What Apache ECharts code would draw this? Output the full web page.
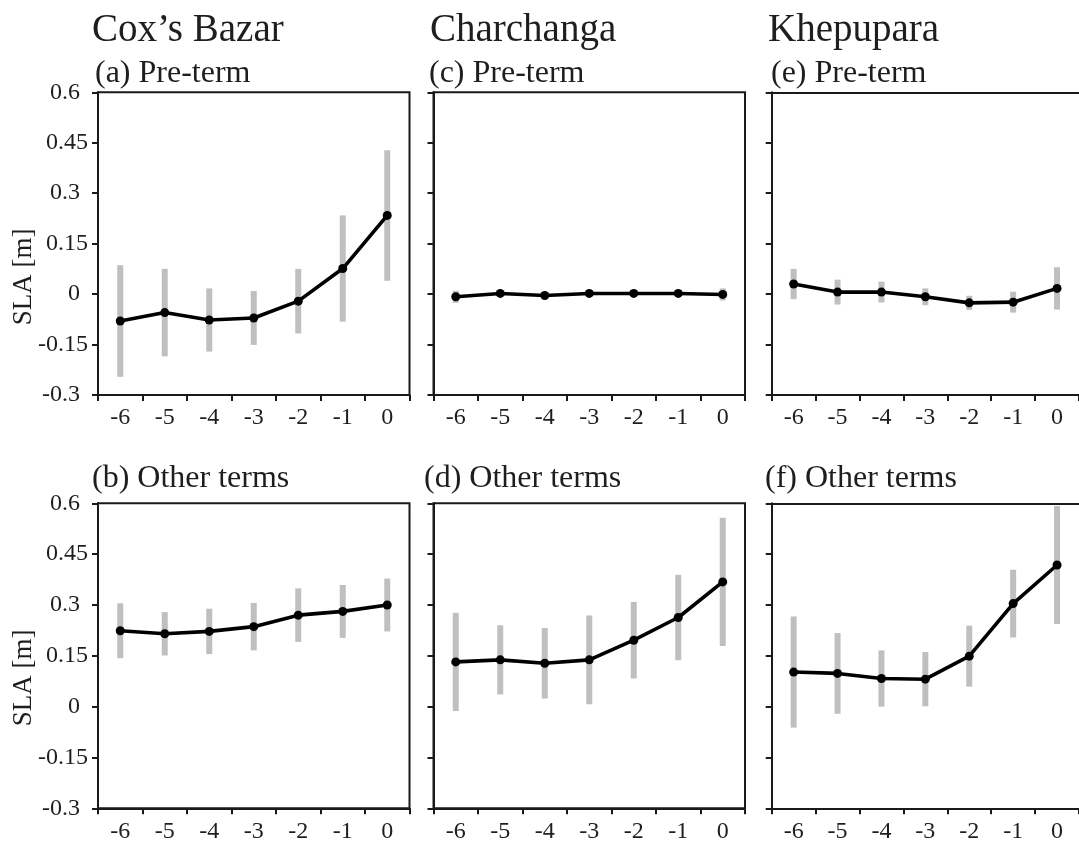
<!DOCTYPE html>
<html>
<head>
<meta charset="utf-8">
<script src="https://cdn.jsdelivr.net/npm/echarts@6/dist/echarts.min.js"></script>
<style>
  html, body { margin: 0; padding: 0; background: #ffffff; overflow: hidden; }
  #chart { width: 1079px; height: 848px; }
</style>
</head>
<body>
<div id="chart"></div>
<script>
// Days before the event (x categories)
const categories = ['-6', '-5', '-4', '-3', '-2', '-1', '0'];
const yTicks = [-0.3, -0.15, 0, 0.15, 0.3, 0.45, 0.6];

// Mean sea level anomaly [m] and standard deviation for each station / period
const coxPreMean   = [-0.080, -0.055, -0.077, -0.071, -0.021, 0.076, 0.234];
const coxPreSd     = [0.166, 0.130, 0.094, 0.080, 0.096, 0.158, 0.194];
const coxOtherMean = [0.224, 0.215, 0.222, 0.236, 0.270, 0.281, 0.300];
const coxOtherSd   = [0.081, 0.064, 0.067, 0.070, 0.079, 0.078, 0.078];

const charPreMean   = [-0.008, 0.002, -0.004, 0.002, 0.002, 0.002, -0.001];
const charPreSd     = [0.018, 0.008, 0.008, 0.008, 0.008, 0.008, 0.018];
const charOtherMean = [0.132, 0.138, 0.128, 0.138, 0.196, 0.263, 0.368];
const charOtherSd   = [0.145, 0.102, 0.104, 0.131, 0.113, 0.126, 0.189];

const khePreMean   = [0.030, 0.006, 0.006, -0.008, -0.026, -0.024, 0.017];
const khePreSd     = [0.045, 0.037, 0.031, 0.025, 0.021, 0.031, 0.063];
const kheOtherMean = [0.102, 0.098, 0.083, 0.081, 0.149, 0.304, 0.418];
const kheOtherSd   = [0.164, 0.119, 0.083, 0.080, 0.090, 0.100, 0.174];

const stations = ["Cox\u2019s Bazar", 'Charchanga', 'Khepupara'];
const panelTitles = [
  ['(a) Pre-term', '(b) Other terms'],
  ['(c) Pre-term', '(d) Other terms'],
  ['(e) Pre-term', '(f) Other terms']
];
const panelData = [
  [[coxPreMean, coxPreSd], [coxOtherMean, coxOtherSd]],
  [[charPreMean, charPreSd], [charOtherMean, charOtherSd]],
  [[khePreMean, khePreSd], [kheOtherMean, kheOtherSd]]
];

const FONT = "'Liberation Serif', 'Times New Roman', serif";
const INK = '#1e1e1e';
const AXIS = '#1a1a1a';

// Layout of the six plot boxes (the right column runs past the canvas edge,
// so it only gets a top frame line and no right-hand border)
const colLeft = [98, 433.5, 771.7];
const colRight = [669.5, 334, -3.7];
const rowTop = [92.3, 503.3];
const rowHeight = [302.7, 305];
const stationX = [92, 430, 768];
const panelLabelX = [[95, 92], [429, 424], [771, 765]];
const panelLabelY = [74, 479];
const slaY = [277, 678];

const grids = [], xAxes = [], yAxes = [], series = [], graphics = [];

function fmtTick(v) {
  const r = Math.round(v * 100) / 100;
  const s = String(r);
  const dec = s.indexOf('.') >= 0 ? s.split('.')[1].length : 0;
  return dec === 2 ? '{w|' + s + '}' : '{n|' + s + '}';
}

for (let c = 0; c < 3; c++) {
  for (let r = 0; r < 2; r++) {
    const g = grids.length;
    const boxed = c < 2;
    grids.push({
      left: colLeft[c], right: colRight[c], top: rowTop[r], height: rowHeight[r],
      show: boxed, borderColor: AXIS, borderWidth: 2, backgroundColor: 'transparent'
    });
    const xi = xAxes.length;
    xAxes.push({
      type: 'category', gridIndex: g, data: categories, boundaryGap: true,
      axisLine: { onZero: false, lineStyle: { color: AXIS, width: 2 } },
      axisTick: { show: true, length: 6, lineStyle: { color: AXIS, width: 2 } },
      axisLabel: { color: INK, fontFamily: FONT, fontSize: 24, margin: 11 },
      splitLine: { show: false }
    });
    if (!boxed) {
      // top frame line only
      xAxes.push({
        type: 'category', gridIndex: g, data: categories, position: 'top',
        axisLine: { onZero: false, lineStyle: { color: AXIS, width: 2 } },
        axisTick: { show: false }, axisLabel: { show: false }, splitLine: { show: false }
      });
    }
    const yi = yAxes.length;
    yAxes.push({
      type: 'value', gridIndex: g, min: -0.3, max: 0.6, interval: 0.15,
      axisLine: { show: true, onZero: false, lineStyle: { color: AXIS, width: 2 } },
      axisTick: { show: true, length: 6, lineStyle: { color: AXIS, width: 2 } },
      axisLabel: {
        show: c === 0, fontFamily: FONT, fontSize: 24, color: INK, margin: 10,
        formatter: fmtTick,
        rich: {
          w: { fontFamily: FONT, fontSize: 24, color: INK },
          n: { fontFamily: FONT, fontSize: 24, color: INK, padding: [0, 8, 0, 0] }
        }
      },
      splitLine: { show: false }
    });

    const mean = panelData[c][r][0];
    const sd = panelData[c][r][1];
    // error bars: mean ± one standard deviation
    series.push({
      type: 'custom', xAxisIndex: xi, yAxisIndex: yi, z: 1, silent: true,
      data: mean.map((m, i) => [i, m - sd[i], m + sd[i]]),
      renderItem: function (params, api) {
        const lo = api.coord([api.value(0), api.value(1)]);
        const hi = api.coord([api.value(0), api.value(2)]);
        return {
          type: 'line',
          shape: { x1: lo[0], y1: lo[1], x2: hi[0], y2: hi[1] },
          style: { stroke: '#bfbfbf', lineWidth: 6 }
        };
      }
    });
    series.push({
      type: 'line', xAxisIndex: xi, yAxisIndex: yi, z: 3, data: mean,
      symbol: 'circle', symbolSize: 9,
      lineStyle: { color: '#000000', width: 3.6 },
      itemStyle: { color: '#000000' },
      emphasis: { disabled: true }, animation: false
    });

    graphics.push({
      type: 'text', x: panelLabelX[c][r], y: panelLabelY[r],
      style: { text: panelTitles[c][r], font: '32px ' + FONT, fill: INK, verticalAlign: 'middle', align: 'left' }
    });
  }
  graphics.push({
    type: 'text', x: stationX[c], y: 31,
    style: { text: stations[c], font: '39px ' + FONT, fill: INK, verticalAlign: 'middle', align: 'left' }
  });
}

for (let r = 0; r < 2; r++) {
  graphics.push({
    type: 'text', x: 24, y: slaY[r], rotation: Math.PI / 2,
    style: { text: 'SLA [m]', font: '27px ' + FONT, fill: INK, verticalAlign: 'middle', align: 'center' }
  });
}

const chart = echarts.init(document.getElementById('chart'), null, { renderer: 'canvas' });
chart.setOption({
  backgroundColor: '#ffffff',
  animation: false,
  grid: grids,
  xAxis: xAxes,
  yAxis: yAxes,
  series: series,
  graphic: graphics
});
</script>
</body>
</html>
